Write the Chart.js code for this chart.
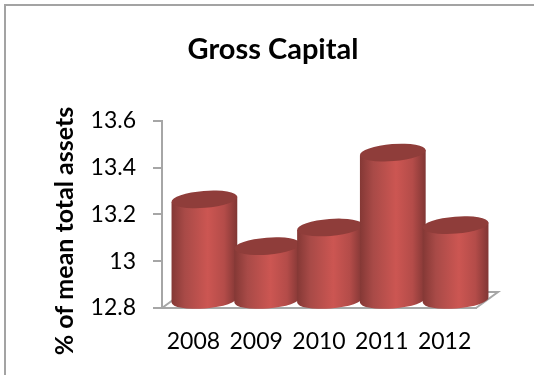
<!DOCTYPE html>
<html>
<head>
<meta charset="utf-8">
<title>Gross Capital</title>
<script src="https://cdn.jsdelivr.net/npm/chart.js@4/dist/chart.umd.min.js"></script>
<style>
    html, body { margin: 0; padding: 0; background: #fff; overflow: hidden; }
    #wrap { position: absolute; left: 0; top: 0; width: 534px; height: 375px; }
    #frame { position: absolute; left: 4px; top: 4px; right: 0; bottom: 0; border-top: 2px solid #a3a3a3; border-left: 2px solid #a3a3a3; }
    #chart { position: absolute; left: 0; top: 0; }
</style>
</head>
<body>
<div id="wrap">
    <div id="frame"></div>
    <canvas id="chart" width="534" height="375"></canvas>
</div>
<script>
// Gross capital as % of mean total assets
var years = ['2008', '2009', '2010', '2011', '2012'];
var grossCapital = [13.23, 13.03, 13.11, 13.43, 13.12];
var yMin = 12.8;
var yMax = 13.6;
var yStep = 0.2;
var yTitle = '% of mean total assets';

const fontName = 'Lato, Carlito, sans-serif';
const axisGray = '#a6a6a6';

// depth of the fake 3D floor, in pixels
const depthX = 22;
const depthY = -16;
const tilt = -4.5 * Math.PI / 180;

function drawCylinder(ctx, bar, basePixel) {
    const a = bar.width / 2;
    const b = 8.5;
    const cx = bar.x + depthX / 2;
    const top = bar.y + depthY / 2;
    const bottom = basePixel + depthY / 2;
    const dx = a * Math.cos(tilt);
    const dy = a * Math.sin(tilt);

    const side = ctx.createLinearGradient(cx - a, 0, cx + a, 0);
    side.addColorStop(0, '#843835');
    side.addColorStop(0.2, '#a84a47');
    side.addColorStop(0.55, '#cc5652');
    side.addColorStop(0.8, '#b44c49');
    side.addColorStop(1, '#803634');

    ctx.beginPath();
    ctx.moveTo(cx - dx, top - dy);
    ctx.lineTo(cx - dx, bottom - dy);
    ctx.ellipse(cx, bottom, a, b, tilt, Math.PI, 0, true);
    ctx.lineTo(cx + dx, top + dy);
    ctx.closePath();
    ctx.fillStyle = side;
    ctx.fill();

    ctx.beginPath();
    ctx.ellipse(cx, top, a, b, tilt, 0, Math.PI * 2);
    ctx.fillStyle = '#8f3d3a';
    ctx.fill();
}

const cylinderPlugin = {
    id: 'cylinders',
    beforeDatasetsDraw(chart) {
        // floor under the bars
        const ctx = chart.ctx;
        const area = chart.chartArea;
        ctx.save();
        ctx.beginPath();
        ctx.moveTo(area.left, area.bottom);
        ctx.lineTo(area.left + depthX, area.bottom + depthY);
        ctx.lineTo(area.right + depthX, area.bottom + depthY);
        ctx.lineTo(area.right, area.bottom);
        ctx.strokeStyle = axisGray;
        ctx.lineWidth = 2;
        ctx.stroke();
        ctx.restore();
    },
    afterDatasetsDraw(chart) {
        const ctx = chart.ctx;
        const basePixel = chart.scales.y.getPixelForValue(yMin);
        ctx.save();
        chart.getDatasetMeta(0).data.forEach(function (bar) {
            drawCylinder(ctx, bar, basePixel);
        });
        ctx.restore();
    },
    afterDraw(chart) {
        // axis title sits lower than the middle of the axis
        const ctx = chart.ctx;
        ctx.save();
        ctx.translate(65, 231);
        ctx.rotate(-Math.PI / 2);
        ctx.font = 'bold 25px ' + fontName;
        ctx.fillStyle = '#000';
        ctx.textAlign = 'center';
        ctx.textBaseline = 'middle';
        ctx.fillText(yTitle, 0, 0);
        ctx.restore();
    }
};

const ctx = document.getElementById('chart').getContext('2d');
const grossChart = new Chart(ctx, {
    type: 'bar',
    plugins: [cylinderPlugin],
    data: {
        labels: years,
        datasets: [{
            data: grossCapital,
            xAxisID: 'x',
            yAxisID: 'y',
            backgroundColor: 'transparent',
            barPercentage: 1.05,
            categoryPercentage: 1
        }]
    },
    options: {
        responsive: false,
        animation: false,
        layout: { padding: { left: 12, top: 0, right: 0, bottom: 0 } },
        plugins: {
            legend: { display: false },
            tooltip: { enabled: false },
            title: {
                display: true,
                text: 'Gross Capital',
                color: '#000',
                font: { family: fontName, size: 29, weight: 'bold' },
                padding: { top: 32, bottom: 54 }
            }
        },
        scales: {
            x: {
                grid: { display: false },
                border: { color: axisGray, width: 2 },
                ticks: { color: '#000', padding: 12, font: { family: fontName, size: 23 }, maxRotation: 0 },
                afterFit(scale) { scale.height = 67; }
            },
            y: {
                min: yMin,
                max: yMax,
                grid: { drawOnChartArea: false, color: axisGray, lineWidth: 2, tickLength: 9 },
                border: { color: axisGray, width: 2 },
                ticks: {
                    stepSize: yStep,
                    color: '#000',
                    padding: 17,
                    font: { family: fontName, size: 23 },
                    callback: function (value) { return String(+value.toFixed(1)); }
                },
                afterFit(scale) { scale.width = 150; }
            },
            // empty axis that holds the right margin
            yRight: {
                position: 'right',
                grid: { display: false },
                border: { display: false },
                ticks: { display: false },
                afterFit(scale) { scale.width = 58; }
            }
        }
    }
});
</script>
</body>
</html>
